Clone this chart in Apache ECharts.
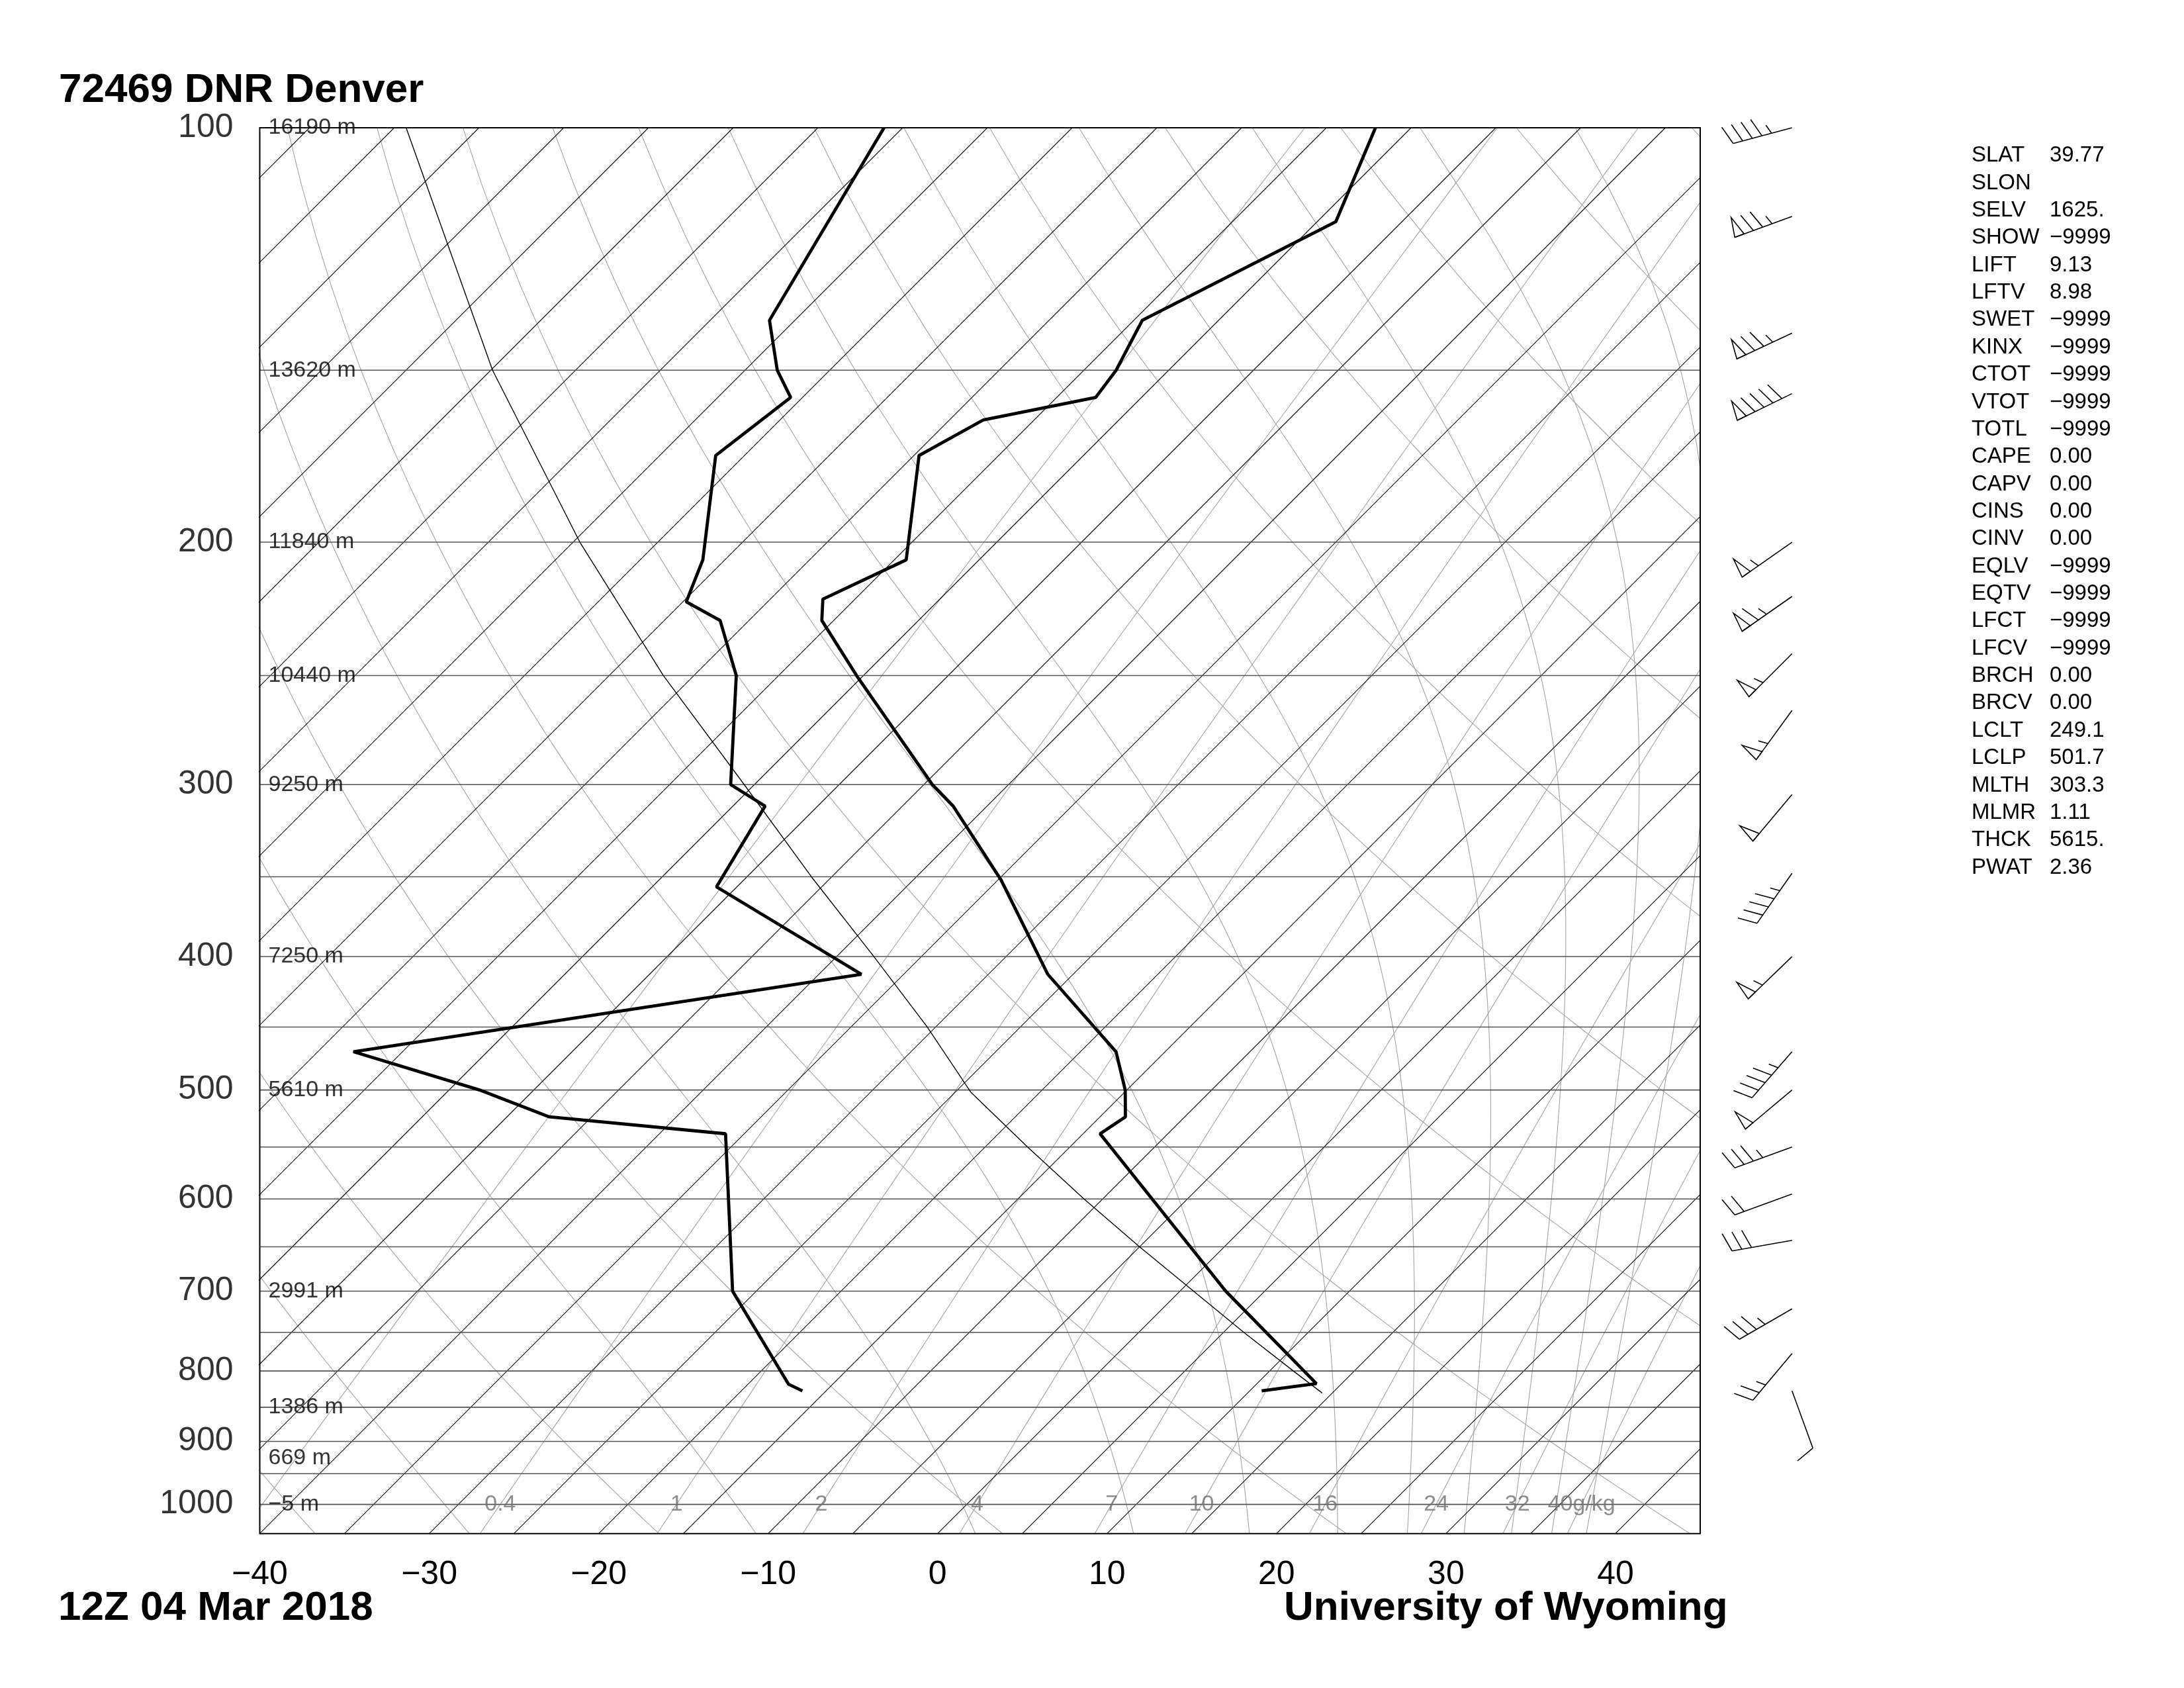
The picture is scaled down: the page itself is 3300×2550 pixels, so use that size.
<!DOCTYPE html>
<html><head><meta charset="utf-8">
<script src="https://cdn.jsdelivr.net/npm/echarts@6/dist/echarts.min.js"></script>
<style>html,body{margin:0;padding:0;background:#fff}#c{width:3300px;height:2550px}</style>
</head><body><div id="c"></div>
<script>
// ---------------- data ----------------
const tempP = [100,117,138,150,157,163,173,206,220,228,250,300,311,352,412,469,500,523,538,700,817,827];
const tempT = [-57.1,-53.9,-59.5,-58.1,-57.7,-63.0,-64.7,-59.3,-61.9,-60.7,-55.4,-44.5,-42.0,-34.8,-26.5,-17.9,-15.1,-13.5,-14.0,2.7,13.5,10.7];
const dewP  = [100,138,150,157,173,206,221,228,250,300,311,356,412,469,500,523,538,700,818,827];
const dewT  = [-86.1,-81.5,-78.1,-75.7,-76.7,-71.3,-69.8,-66.7,-62.5,-56.4,-53.1,-51.2,-37.5,-62.9,-53.2,-47.5,-36.1,-26.4,-17.6,-16.4];
const parcelP = [830,800,750,700,650,600,550,501.7,450,400,350,300,250,200,150,100];
const parcelT = [14.4,11.4,6.2,0.8,-5.0,-11.1,-17.5,-24.1,-30.5,-37.8,-46.2,-55.6,-66.8,-79.6,-94.9,-114.3];
const windP   = [100,116,141,156,200,219,241,265,305,348,400,469,500,550,595,643,721,777,827];
const windDir = [255,250,245,244,235,235,225,216,220,215,226,221,230,250,250,260,240,220,160];
const windSpd = [45,75,75,90,55,65,55,55,50,45,55,45,50,35,20,30,35,25,10];
const pressureLabels = [100,200,300,400,500,600,700,800,900,1000];
const heightP = [100,150,200,250,300,400,500,700,850,925,1000];
const heightLabels = ['16190 m','13620 m','11840 m','10440 m','9250 m','7250 m','5610 m','2991 m','1386 m','669 m','\u22125 m'];
const isobarP = [100,150,200,250,300,350,400,450,500,550,600,650,700,750,800,850,900,950,1000];
const mixLines = [0.1,0.4,1,2,4,7,10,16,24,32,40];
const mixLabelVals = [0.4,1,2,4,7,10,16,24,32,40];
const mixLabelText = ['0.4','1','2','4','7','10','16','24','32','40g/kg'];
const indexNames = ['SLAT','SLON','SELV','SHOW','LIFT','LFTV','SWET','KINX','CTOT','VTOT','TOTL','CAPE','CAPV','CINS','CINV','EQLV','EQTV','LFCT','LFCV','BRCH','BRCV','LCLT','LCLP','MLTH','MLMR','THCK','PWAT'];
const indexVals  = ['39.77','','1625.','\u22129999','9.13','8.98','\u22129999','\u22129999','\u22129999','\u22129999','\u22129999','0.00','0.00','0.00','0.00','\u22129999','\u22129999','\u22129999','\u22129999','0.00','0.00','249.1','501.7','303.3','1.11','5615.','2.36'];

// ---------------- layout ----------------
const gridL = 392.5, gridR = 2569, gridT = 193, gridB = 2316.7;
const pTop = 100, pBot = 1050, xMin = -40, xMax = 45;
const pxPerDeg = (gridR - gridL) / (xMax - xMin);
const pxPerLn = (gridB - gridT) / Math.log(pBot / pTop);
const K = pxPerLn / pxPerDeg;
const FONT = '"Liberation Sans", Arial, Helvetica, sans-serif';
function skewX(T, p) { return T + K * Math.log(pBot / p); }
function Y(p) { return Math.log(p); }
const SEP = ['-', '-'];

// ---------------- thermodynamic reference lines ----------------
function esat(Tc) { return 6.112 * Math.exp(17.67 * Tc / (Tc + 243.5)); }
function thetaESat(Tk, p) {
  const e = esat(Tk - 273.15);
  if (e >= p * 0.5) return Infinity;
  const r = 622 * e / (p - e);
  return Tk * Math.pow(1000 / p, 0.2854 * (1 - 0.00028 * r)) * Math.exp((3.376 / Tk - 0.00254) * r * (1 + 0.00081 * r));
}
function moistT(thE, p) {
  let lo = 100, hi = 340;
  for (let i = 0; i < 50; i++) { const m = (lo + hi) / 2; if (thetaESat(m, p) < thE) lo = m; else hi = m; }
  return (lo + hi) / 2 - 273.15;
}
function mixTd(w, p) { const e = p * w / (622 + w); const l = Math.log(e / 6.112); return 243.5 * l / (17.67 - l); }
const pSteps = []; for (let p = 1050; p >= 100; p -= 10) pSteps.push(p);

const isobarData = [];
isobarP.forEach(p => { isobarData.push([xMin, Y(p)], [xMax, Y(p)], SEP); });
const isothermData = [];
for (let T = -125; T <= 45; T += 5) { isothermData.push([skewX(T, 1050), Y(1050)], [skewX(T, 100), Y(100)], SEP); }
const dryData = [];
for (let th = -40; th <= 180; th += 20) {
  pSteps.forEach(p => dryData.push([skewX((th + 273.15) * Math.pow(p / 1000, 0.2857) - 273.15, p), Y(p)]));
  dryData.push(SEP);
}
const moistData = [];
for (let thE = 243.15; thE <= 443.2; thE += 20) {
  pSteps.forEach(p => moistData.push([skewX(moistT(thE, p), p), Y(p)]));
  moistData.push(SEP);
}
const mixData = [];
mixLines.forEach(w => { pSteps.forEach(p => mixData.push([skewX(mixTd(w, p), p), Y(p)])); mixData.push(SEP); });

const toXY = (P, T) => P.map((p, i) => [skewX(T[i], p), Y(p)]);

function lineSeries(data, color, width, z) {
  return { type: 'line', data, showSymbol: false, symbol: 'none', silent: true, animation: false,
    connectNulls: false, lineStyle: { color, width }, z, xAxisIndex: 0, yAxisIndex: 0 };
}
function labelSeries(data, labelOpt) {
  return { type: 'scatter', data, symbolSize: 0, silent: true, animation: false, clip: false, z: 10,
    xAxisIndex: 0, yAxisIndex: 0, label: Object.assign({ show: true, fontFamily: FONT, color: '#000' }, labelOpt) };
}

// ---------------- wind barbs ----------------
const barbX = 127.7;
const windData = windP.map((p, i) => [barbX, Y(p), windDir[i], windSpd[i]]);
const STAFF = 92, BARB = 30, STEP = 15;
function renderBarb(params, api) {
  const o = api.coord([api.value(0), api.value(1)]);
  const dir = api.value(2) * Math.PI / 180, spd = api.value(3);
  const d = [Math.sin(dir), -Math.cos(dir)];
  const perp = [-d[1], d[0]];
  const tip = [o[0] + STAFF * d[0], o[1] + STAFF * d[1]];
  const at = s => [tip[0] - s * d[0], tip[1] - s * d[1]];
  const st = { stroke: '#000', lineWidth: 1.6, fill: 'none' };
  const ch = [{ type: 'line', shape: { x1: o[0], y1: o[1], x2: tip[0], y2: tip[1] }, style: st }];
  let n50 = Math.floor(spd / 50), rem = spd - 50 * n50;
  let n10 = Math.floor(rem / 10), n5 = Math.round((rem - 10 * n10) / 5);
  let pos = 0;
  const bv = [0.94 * perp[0] + 0.34 * d[0], 0.94 * perp[1] + 0.34 * d[1]];
  for (let i = 0; i < n50; i++) {
    const a = at(pos), b = at(pos + STEP), c0 = at(pos + 5);
    const apex = [c0[0] + BARB * perp[0], c0[1] + BARB * perp[1]];
    ch.push({ type: 'polygon', shape: { points: [a, apex, b] }, style: st });
    pos += 2 * STEP;
  }
  for (let i = 0; i < n10; i++) {
    const a = at(pos);
    ch.push({ type: 'line', shape: { x1: a[0], y1: a[1], x2: a[0] + BARB * bv[0], y2: a[1] + BARB * bv[1] }, style: st });
    pos += STEP;
  }
  for (let i = 0; i < n5; i++) {
    const a = at(pos);
    ch.push({ type: 'line', shape: { x1: a[0], y1: a[1], x2: a[0] + BARB / 2 * bv[0], y2: a[1] + BARB / 2 * bv[1] }, style: st });
    pos += STEP;
  }
  return { type: 'group', children: ch };
}

// ---------------- text ----------------
const graphics = [];
function txt(x, y, text, font, align) {
  graphics.push({ type: 'text', x, y, silent: true, style: { text, font, fill: '#000', align: align || 'left', verticalAlign: 'middle', textAlign: align || 'left', textVerticalAlign: 'middle' } });
}
txt(89, 137, '72469 DNR Denver', 'bold 62px ' + FONT);
txt(88, 2430, '12Z 04 Mar 2018', 'bold 62px ' + FONT);
txt(1940, 2430, 'University of Wyoming', 'bold 62px ' + FONT);
indexNames.forEach((n, i) => {
  txt(2979, 235.2 + i * 41.36, n, '33px ' + FONT);
  txt(3097, 235.2 + i * 41.36, indexVals[i], '33px ' + FONT);
});

const option = {
  backgroundColor: '#fff',
  animation: false,
  grid: [
    { left: gridL, top: gridT, width: gridR - gridL, height: gridB - gridT, show: true, borderColor: '#000', borderWidth: 2, backgroundColor: 'transparent', containLabel: false, outerBoundsMode: 'none', z: 20 },
    { left: 2580, top: gridT, width: 180, height: gridB - gridT, show: false, containLabel: false, outerBoundsMode: 'none' }
  ],
  xAxis: [
    { type: 'value', gridIndex: 0, min: xMin, max: xMax, interval: 10,
      axisLine: { show: false }, axisTick: { show: false }, splitLine: { show: false },
      axisLabel: { show: true, color: '#000', fontSize: 50, fontFamily: FONT, margin: 63, verticalAlign: 'middle',
        showMaxLabel: false,
        formatter: v => (Math.abs(v % 10) < 1e-6 && v <= 40) ? (v < 0 ? '\u2212' + Math.abs(v) : String(v)) : '' } },
    { type: 'value', gridIndex: 1, min: 0, max: 180, show: false }
  ],
  yAxis: [
    { type: 'value', gridIndex: 0, inverse: true, min: Y(pTop), max: Y(pBot),
      axisLine: { show: false }, axisTick: { show: false }, splitLine: { show: false }, axisLabel: { show: false } },
    { type: 'value', gridIndex: 1, inverse: true, min: Y(pTop), max: Y(pBot), show: false }
  ],
  graphic: graphics,
  series: [
    lineSeries(dryData, '#a4a4a4', 1.1, 1),
    lineSeries(moistData, '#a4a4a4', 1.1, 1),
    lineSeries(mixData, '#a4a4a4', 1.1, 1),
    lineSeries(isothermData, '#111', 1.1, 2),
    lineSeries(isobarData, '#555', 1.6, 2),
    lineSeries(toXY(parcelP, parcelT), '#000', 1.4, 3),
    lineSeries(toXY(tempP, tempT), '#000', 4.8, 4),
    lineSeries(toXY(dewP, dewT), '#000', 4.8, 4),
    labelSeries(pressureLabels.map(p => [xMin, Y(p)]), { position: 'left', distance: 40, fontSize: 50,
      formatter: prm => String(pressureLabels[prm.dataIndex]) }),
    labelSeries(heightP.map(p => [xMin, Y(p)]), { position: 'right', distance: 13, fontSize: 34,
      formatter: prm => heightLabels[prm.dataIndex] }),
    labelSeries(mixLabelVals.map(w => [skewX(mixTd(w, 1000), 1000), Y(1000)]), { position: 'inside', fontSize: 34, color: '#707070',
      formatter: prm => mixLabelText[prm.dataIndex] }),
    { type: 'custom', xAxisIndex: 1, yAxisIndex: 1, data: windData, renderItem: renderBarb, clip: false,
      silent: true, animation: false, encode: { x: 0, y: 1 }, z: 10 }
  ]
};
const chart = echarts.init(document.getElementById('c'), null, { renderer: 'canvas', width: 3300, height: 2550 });
chart.setOption(option);
</script>
</body></html>
